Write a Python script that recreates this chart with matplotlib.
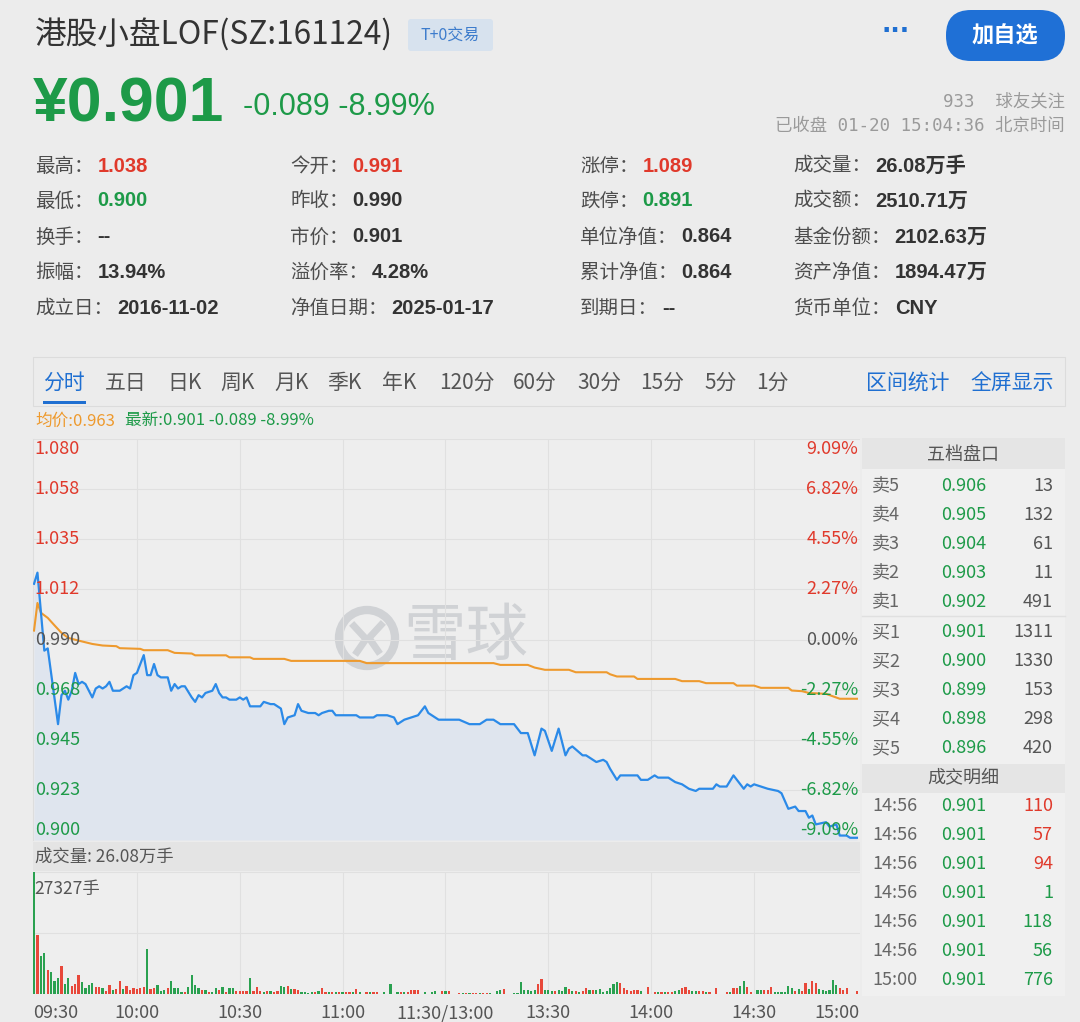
import numpy as np
import matplotlib
matplotlib.use('Agg')
import matplotlib.pyplot as plt
from matplotlib.patches import Rectangle, FancyBboxPatch, Circle

plt.rcParams['font.family'] = ['Noto Sans CJK SC', 'DejaVu Sans']

# ---------------- 数据 ----------------
prev_close = 0.990

# 分时价格(分钟序号, 价格) 9:30 = 0, 15:00 = 240
price_min = [0, 1, 3, 4, 7, 8, 9, 10, 11, 12, 13, 14, 15, 17, 18, 19, 20, 21, 22, 23,
             25, 26, 27, 28, 29, 30, 32, 33, 34, 35, 36, 37, 39, 40, 41, 42, 43, 44, 46, 47,
             48, 49, 50, 52, 53, 54, 55, 56, 57, 59, 60, 61, 62, 63, 66, 67, 69, 70, 72, 73,
             74, 76, 77, 78, 80, 82, 83, 84, 86, 87, 88, 90, 94, 95, 99, 100, 103, 105, 106, 107,
             108, 110, 112, 113, 114, 115, 116, 118, 119, 120, 124, 127, 130, 132, 134, 136, 140, 142, 144, 146,
             148, 149, 151, 153, 155, 156, 157, 160, 161, 163, 164, 166, 167, 168, 170, 171, 176, 177, 179, 181,
             182, 185, 187, 189, 191, 193, 194, 198, 199, 200, 202, 204, 205, 207, 208, 209, 210, 212, 214, 217,
             218, 220, 222, 223, 225, 226, 227, 228, 231, 232, 234, 235, 237, 238, 240]
price_val = [1.015, 1.020, 0.985, 0.986, 0.952, 0.965, 0.967, 0.963, 0.967, 0.975, 0.970, 0.971, 0.970, 0.964, 0.968, 0.969, 0.968, 0.969, 0.971, 0.967,
             0.967, 0.968, 0.969, 0.968, 0.974, 0.975, 0.983, 0.974, 0.974, 0.979, 0.974, 0.973, 0.973, 0.967, 0.970, 0.968, 0.969, 0.969, 0.964, 0.962,
             0.965, 0.964, 0.966, 0.967, 0.970, 0.966, 0.964, 0.964, 0.963, 0.963, 0.964, 0.963, 0.964, 0.960, 0.960, 0.962, 0.961, 0.961, 0.959, 0.952,
             0.955, 0.956, 0.961, 0.958, 0.957, 0.957, 0.956, 0.957, 0.958, 0.958, 0.956, 0.956, 0.956, 0.955, 0.955, 0.956, 0.956, 0.955, 0.952, 0.953,
             0.954, 0.955, 0.956, 0.958, 0.960, 0.957, 0.956, 0.954, 0.954, 0.954, 0.954, 0.952, 0.952, 0.954, 0.954, 0.952, 0.952, 0.948, 0.948, 0.938,
             0.950, 0.949, 0.940, 0.950, 0.938, 0.941, 0.942, 0.938, 0.938, 0.936, 0.935, 0.936, 0.935, 0.932, 0.927, 0.929, 0.929, 0.927, 0.927, 0.929,
             0.928, 0.928, 0.926, 0.925, 0.923, 0.922, 0.923, 0.923, 0.925, 0.924, 0.924, 0.929, 0.927, 0.923, 0.925, 0.924, 0.925, 0.924, 0.923, 0.922,
             0.921, 0.914, 0.915, 0.913, 0.913, 0.910, 0.911, 0.907, 0.908, 0.906, 0.907, 0.902, 0.902, 0.901, 0.901]

# 均价线
avg_min = [0, 1, 2, 4, 6, 8, 10, 13, 17, 20, 24, 25, 31, 32, 39, 41, 46, 47, 56, 57,
           63, 64, 73, 75, 95, 97, 134, 136, 144, 146, 149, 156, 158, 167, 168, 170, 175, 176, 187, 189,
           194, 196, 204, 205, 210, 212, 220, 221, 224, 226, 231, 235, 240]
avg_val = [0.9940, 1.0064, 1.0020, 0.9997, 0.9963, 0.9930, 0.9907, 0.9895, 0.9880, 0.9873, 0.9870, 0.9861, 0.9858, 0.9852, 0.9852, 0.9840, 0.9837, 0.9829, 0.9829, 0.9820,
           0.9820, 0.9813, 0.9813, 0.9804, 0.9804, 0.9794, 0.9794, 0.9786, 0.9786, 0.9774, 0.9764, 0.9764, 0.9753, 0.9753, 0.9744, 0.9734, 0.9734, 0.9723, 0.9723, 0.9713,
           0.9713, 0.9704, 0.9704, 0.9693, 0.9693, 0.9683, 0.9683, 0.9671, 0.9668, 0.9660, 0.9656, 0.9634, 0.9634]

# 每分钟成交量(手)
vol = [27327, 13300, 8600, 9100, 5380, 4860, 2840, 3590, 6270, 2240,
       3590, 1870, 2240, 4330, 2610, 1340, 2090, 2390, 1640, 1640,
       1340, 750, 2090, 900, 1120, 2840, 1120, 1870, 900, 1340,
       1120, 1340, 1490, 10080, 1120, 1340, 2090, 750, 900, 1340,
       2990, 1340, 1340, 370, 370, 1490, 4330, 2090, 1340, 900,
       900, 370, 370, 1340, 900, 1490, 370, 1340, 1340, 600,
       600, 750, 750, 3590, 750, 1490, 600, 370, 600, 600,
       370, 750, 1870, 1640, 1870, 1120, 1120, 900, 370, 370,
       220, 370, 370, 750, 1340, 370, 370, 370, 370, 370,
       370, 370, 370, 370, 1120, 370, 0, 370, 370, 370,
       370, 0, 370, 0, 2240, 0, 370, 370, 370, 370,
       900, 900, 900, 0, 370, 0, 370, 750, 0, 750,
       750, 750, 0, 0, 220, 220, 220, 220, 220, 220,
       220, 220, 220, 220, 0, 600, 900, 1120, 0, 0,
       220, 220, 2610, 900, 900, 750, 900, 2240, 3360, 900,
       900, 750, 750, 900, 600, 1640, 1120, 750, 600, 370,
       750, 1340, 900, 900, 900, 1120, 370, 750, 1340, 2240,
       2610, 2390, 1340, 900, 750, 900, 900, 600, 0, 1490,
       0, 370, 370, 370, 370, 370, 370, 600, 900, 1340,
       1490, 900, 750, 600, 600, 600, 370, 370, 0, 1340,
       0, 0, 370, 370, 1340, 1340, 1870, 2840, 1640, 370,
       0, 900, 900, 900, 900, 1490, 370, 370, 370, 370,
       1870, 1340, 750, 1120, 600, 2390, 1120, 2990, 2390, 1120,
       900, 750, 900, 3140, 2090, 1340, 900, 1340, 0, 0,
       600]
# r=涨 g=跌 n=无
vol_dir = ("grggrgggrg" "grrrggggrr" "grrgrrgrrr" "rrrgrrgggr" "ggggrggggr"
           "grggrgrggr" "rrrgrrrgrg" "rrggrgrrgg" "ggrgrrgrgr" "grrgrgnrgr"
           "rngngngrgr" "rrrngnggnr" "grnnrgrgrr" "grrgnggrnn" "gggggggrrg"
           "ggrgggrgrg" "rrgrgggggg" "grrrrrrgnr" "nrgrgrrggr" "rrggrrgrnr"
           "nnrgrrggrr" "nggrrrgggg" "ggrgrrgrrg" "gggggrrrnn" "r")

time_ticks = [0, 30, 60, 90, 120, 150, 180, 210, 240]
time_labels = ['09:30', '10:00', '10:30', '11:00', '11:30/13:00', '13:30', '14:00', '14:30', '15:00']
price_labels = ['1.080', '1.058', '1.035', '1.012', '0.990', '0.968', '0.945', '0.923', '0.900']
pct_labels = ['9.09%', '6.82%', '4.55%', '2.27%', '0.00%', '-2.27%', '-4.55%', '-6.82%', '-9.09%']

stat_names = ['最高', '最低', '换手', '振幅', '成立日',
              '今开', '昨收', '市价', '溢价率', '净值日期',
              '涨停', '跌停', '单位净值', '累计净值', '到期日',
              '成交量', '成交额', '基金份额', '资产净值', '货币单位']
stat_values = ['1.038', '0.900', '--', '13.94%', '2016-11-02',
               '0.991', '0.990', '0.901', '4.28%', '2025-01-17',
               '1.089', '0.891', '0.864', '0.864', '--',
               '26.08万手', '2510.71万', '2102.63万', '1894.47万', 'CNY']
stat_tone = 'rgnnn' 'rnnnn' 'rgnnn' 'nnnnn'

tabs = ['分时', '五日', '日K', '周K', '月K', '季K', '年K', '120分', '60分', '30分', '15分', '5分', '1分']

ask_names = ['卖5', '卖4', '卖3', '卖2', '卖1']
ask_prices = ['0.906', '0.905', '0.904', '0.903', '0.902']
ask_vols = [13, 132, 61, 11, 491]
bid_names = ['买1', '买2', '买3', '买4', '买5']
bid_prices = ['0.901', '0.900', '0.899', '0.898', '0.896']
bid_vols = [1311, 1330, 153, 298, 420]
trade_times = ['14:56', '14:56', '14:56', '14:56', '14:56', '14:56', '15:00']
trade_prices = ['0.901'] * 7
trade_vols = [110, 57, 94, 1, 118, 56, 776]
trade_side = 'rrrgggg'

# ---------------- 样式 ----------------
W, H = 1080, 1022
BG = '#ececec'
RED = '#e0392b'
GREEN = '#1d9a48'
BLUE = '#1f6fd1'
ORANGE = '#ee9a2e'
LINE = '#2b8ae8'
GRAY = '#555555'
ARIAL = ['Liberation Sans', 'Noto Sans CJK SC']
MONO = ['DejaVu Sans Mono', 'Noto Sans CJK SC']
tone_color = {'r': RED, 'g': GREEN, 'n': '#333333'}

fig = plt.figure(figsize=(W / 100, H / 100), dpi=100, facecolor=BG)

# 整图像素坐标的底层画布
bg = fig.add_axes([0, 0, 1, 1])
bg.set_xlim(0, W)
bg.set_ylim(H, 0)
bg.axis('off')

def fx(x):
    return x / W

def fy(y):
    return 1 - y / H

# ---- 标题区 ----
bg.text(35, 35, '港股小盘LOF(SZ:161124)', fontsize=22.8, color='#333333', va='center')
bg.add_patch(FancyBboxPatch((408, 19), 85, 32, boxstyle='round,pad=0,rounding_size=3',
                            fc='#d7e2ee', ec='none'))
bg.text(450, 35, 'T+0交易', fontsize=11.5, color='#3d7ccc', ha='center', va='center')
bg.text(896, 31, '···', fontsize=18, color=BLUE, ha='center', va='center',
        family='DejaVu Sans', fontweight='bold')
bg.add_patch(FancyBboxPatch((946, 10), 119, 51, boxstyle='round,pad=0,rounding_size=25',
                            fc='#1f70d6', ec='none'))
bg.text(1005, 36, '加自选', fontsize=16, color='white', ha='center', va='center', fontweight='bold')

bg.text(33, 122, '¥0.901', fontsize=45, color=GREEN, va='baseline', fontweight='bold', family=ARIAL)
bg.text(243, 115, '-0.089 -8.99%', fontsize=22, color=GREEN, va='baseline', family=ARIAL)
bg.text(1065, 101, '933  球友关注', fontsize=12.5, color='#9a9a9a', ha='right', va='center', family=MONO)
bg.text(1065, 126, '已收盘 01-20 15:04:36 北京时间', fontsize=12.5, color='#9a9a9a',
        ha='right', va='center', family=MONO)

# ---- 指标表 ----
stat_cols = [35, 290, 580, 793]
stat_rows = [166, 201, 237, 272, 308]
for i, (name, val) in enumerate(zip(stat_names, stat_values)):
    t = bg.text(stat_cols[i // 5], stat_rows[i % 5], name + '：', fontsize=14,
                color='#4d4d4d', va='center')
    bg.annotate(val, xy=(1, 0.5), xycoords=t, xytext=(3, 0), textcoords='offset points',
                va='center', fontsize=14.5, fontweight='bold', family=ARIAL,
                color=tone_color[stat_tone[i]])

# ---- 周期标签栏 ----
bg.add_patch(Rectangle((33, 357), 1032, 49, fc='none', ec='#dcdcdc', lw=0.8))
tab_x = [43, 105, 167, 220, 274, 327, 382, 439, 513, 577, 640, 704, 756]
for name, x in zip(tabs, tab_x):
    bg.text(x, 383, name, fontsize=15, color=BLUE if name == '分时' else GRAY, va='center')
bg.add_patch(Rectangle((43, 401), 43, 3, fc=BLUE, ec='none'))
bg.text(866, 383, '区间统计', fontsize=15, color=BLUE, va='center')
bg.text(970, 383, '全屏显示', fontsize=15, color=BLUE, va='center')

bg.text(35, 421, '均价:0.963', fontsize=12, color=ORANGE, va='center')
bg.text(125, 421, '最新:0.901 -0.089 -8.99%', fontsize=12, color=GREEN, va='center')

# ---- 分时价格图 ----
ax = fig.add_axes([fx(33), fy(840), fx(860) - fx(33), (840 - 439) / H])
ax.set_facecolor('#eeeeee')
lo, hi = 0.900, 1.080
levels = np.linspace(hi, lo, 9)
ax.set_xlim(-0.3, 240.9)
ax.set_ylim(lo, hi)
ax.set_yticks(levels)
ax.set_xticks(time_ticks[1:-1])
ax.grid(color='#e0e0e0', lw=0.8)
ax.tick_params(length=0, labelleft=False, labelbottom=False)
for s in ax.spines.values():
    s.set_visible(False)
ax.spines['left'].set_visible(True)
ax.spines['left'].set_color('#dddddd')

# 水印
WM = '#d0d2d5'
ax.add_patch(Circle((367, 638), 28, transform=bg.transData, fc='none', ec=WM, lw=6, zorder=1))
ax.plot([354, 366, 357], [626, 639, 652], transform=bg.transData, color=WM, lw=5, zorder=1)
ax.plot([381, 369, 378], [625, 638, 651], transform=bg.transData, color=WM, lw=5, zorder=1)
ax.text(403, 637, '雪球', transform=bg.transData, fontsize=45, color=WM,
        va='center', zorder=1)

ax.fill_between(price_min, price_val, lo, color='#dfe5ee', zorder=2, lw=0)
ax.plot(avg_min, avg_val, color=ORANGE, lw=1.5, zorder=3)
ax.plot(price_min, price_val, color=LINE, lw=1.6, zorder=4)

yax = ax.get_yaxis_transform()
for k, (lv, pl, cl) in enumerate(zip(levels, price_labels, pct_labels)):
    if abs(lv - prev_close) < 1e-6:
        c = GRAY
    elif lv > prev_close:
        c = RED
    else:
        c = GREEN
    va, dy = 'center', 0
    if k == 0:
        va, dy = 'top', -1
    elif k == len(levels) - 1:
        va, dy = 'bottom', 1
    ax.annotate(pl, xy=(0.002, lv), xycoords=yax, xytext=(0, dy), textcoords='offset points',
                ha='left', va=va, fontsize=13, color=c, zorder=5)
    ax.annotate(cl, xy=(0.998, lv), xycoords=yax, xytext=(0, dy), textcoords='offset points',
                ha='right', va=va, fontsize=13, color=c, zorder=5)

# ---- 成交量 ----
bg.add_patch(Rectangle((33, 842), 827, 29, fc='#e4e4e4', ec='none'))
bg.text(35, 857, '成交量: 26.08万手', fontsize=12.5, color=GRAY, va='center')

vx = fig.add_axes([fx(33), fy(994), fx(860) - fx(33), (994 - 872) / H])
vx.set_facecolor('#eeeeee')
vmax = max(vol)
vx.set_xlim(-0.3, 240.9)
vx.set_ylim(0, vmax)
vx.set_yticks([vmax / 2, vmax])
vx.set_xticks(time_ticks[1:-1])
vx.grid(color='#e0e0e0', lw=0.8)
vx.tick_params(length=0, labelleft=False, labelbottom=False)
for s in vx.spines.values():
    s.set_visible(False)
bar_colors = [{'r': '#e8483a', 'g': '#2aa150', 'n': 'none'}[d] for d in vol_dir]
vx.bar(range(len(vol)), vol, width=0.65, color=bar_colors, zorder=3)
vx.text(0.002, 0.86, '%d手' % vmax, transform=vx.transAxes, fontsize=12.5, color=GRAY, va='center')

for m, lab in zip(time_ticks, time_labels):
    x = 34 + m * 823 / 240
    ha = 'center'
    if m == 0:
        x, ha = 33, 'left'
    elif m == 240:
        x, ha = 860, 'right'
    bg.text(x, 1018, lab, fontsize=13, color=GRAY, ha=ha, va='baseline')

# ---- 右侧盘口 ----
bg.add_patch(Rectangle((862, 438), 203, 558, fc='#f0f0f0', ec='none'))
bg.add_patch(Rectangle((862, 438), 203, 31, fc='#e5e5e5', ec='none'))
bg.add_patch(Rectangle((862, 764), 203, 29, fc='#e5e5e5', ec='none'))
bg.plot([862, 1065], [616, 616], color='#e0e0e0', lw=1)
bg.text(963, 455, '五档盘口', fontsize=13, color=GRAY, ha='center', va='center')
bg.text(963, 778, '成交明细', fontsize=13, color=GRAY, ha='center', va='center')

book_names = ask_names + bid_names
book_prices = ask_prices + bid_prices
book_vols = ask_vols + bid_vols
for i, (n, p, v) in enumerate(zip(book_names, book_prices, book_vols)):
    y = 486 + i * 29 + (1 if i >= 5 else 0)
    bg.text(872, y, n, fontsize=13, color='#666666', va='center')
    bg.text(941, y, p, fontsize=13, color=GREEN, va='center')
    bg.text(1053, y, str(v), fontsize=13, color=GRAY, ha='right', va='center')

for i, (t, p, v, sd) in enumerate(zip(trade_times, trade_prices, trade_vols, trade_side)):
    y = 806 + i * 29
    bg.text(872, y, t, fontsize=13, color='#666666', va='center')
    bg.text(941, y, p, fontsize=13, color=GREEN, va='center')
    bg.text(1053, y, str(v), fontsize=13, color=RED if sd == 'r' else GREEN, ha='right', va='center')

fig.savefig('out.png', dpi=100, facecolor=BG)
